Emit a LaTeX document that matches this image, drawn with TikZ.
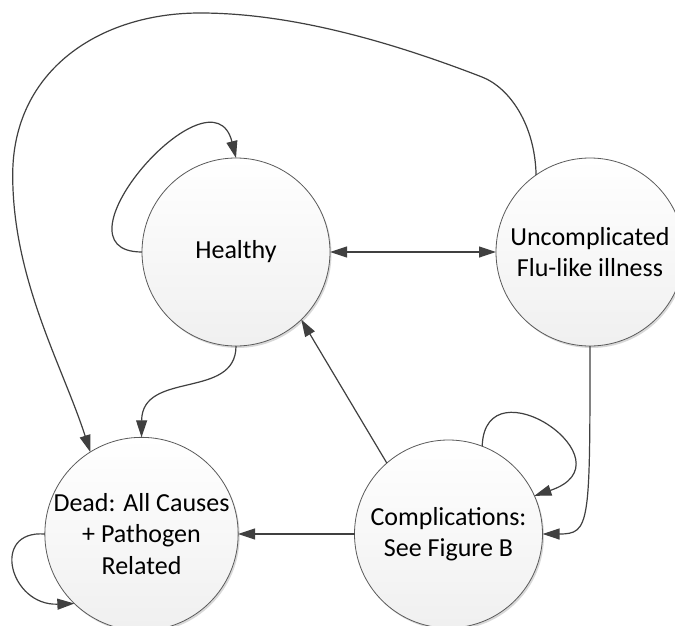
\documentclass[tikz,border=0pt]{standalone}
\usepackage{fontspec}
\setmainfont{Carlito}
\usepackage{tikz}
\usetikzlibrary{arrows.meta, shadows}
\tikzset{>={Triangle[width=11pt,length=17pt]}}
\definecolor{linegray}{HTML}{404040}
\definecolor{rimgray}{HTML}{5A5A5A}

\begin{document}
\begin{tikzpicture}[x=1pt, y=-1pt,
  state/.style={circle, draw=rimgray, line width=0.8pt, minimum size=188pt,
    inner sep=0pt, outer sep=0pt, top color=white, bottom color=gray!12,
    drop shadow={shadow xshift=1.5pt, shadow yshift=-2pt, opacity=0.3},
    align=center, font=\fontsize{26}{31.5}\selectfont},
  trans/.style={->, draw=linegray, line width=1.2pt}]
  \clip (0,0) rectangle (675,626);
  \fill[white] (0,0) rectangle (675,626);

  \node[state] (HEALTHY) at (236,252) {Healthy};
  \node[state] (FLU) at (590,252) {Uncomplicated\\Flu-like illness};
  \node[state] (DEAD) at (141.5,534) {Dead: All Causes\\+ Pathogen\\Related};
  \node[state] (COMP) at (448.5,534) {Complications:\\See Figure B};

  \draw[trans, <->] (HEALTHY) -- (FLU);
  \draw[trans] (HEALTHY.west) .. controls (45,252) and (212,62) .. (HEALTHY.north);
  \draw[trans] (HEALTHY.south) .. controls (236,400) and (142,370) .. (DEAD.north);
  \draw[trans] (COMP.131) -- (HEALTHY.314);
  \draw[trans] (COMP) -- (DEAD);
  \draw[trans] (FLU.south) .. controls (590,525) and (590,534) .. (COMP.east);
  \draw[trans] (COMP.69) .. controls (485,360) and (635,462) .. (COMP.24);
  \draw[trans] (DEAD.west) .. controls (-10,530) and (10,606) .. (DEAD.226);

  \draw[trans] (FLU.125) .. controls (535,125) and (510,88) .. (482,77)
    .. controls (389,41) and (290,13) .. (200,13)
    .. controls (100,13) and (12.7,70) .. (12.7,175)
    .. controls (12.7,280) and (63,367) .. (DEAD.122);
\end{tikzpicture}
\end{document}
